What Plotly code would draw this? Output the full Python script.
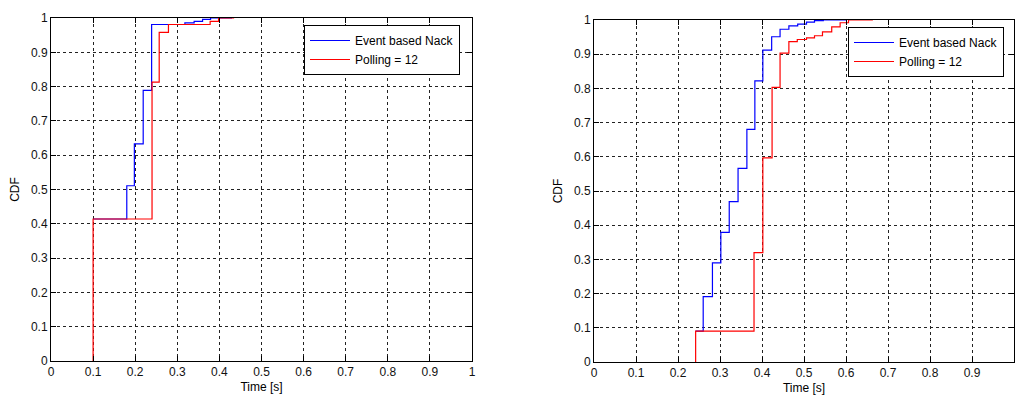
import plotly.graph_objects as go

# ---------------- data ----------------
tick_vals = [0, 0.1, 0.2, 0.3, 0.4, 0.5, 0.6, 0.7, 0.8, 0.9, 1.0]
tick_text = ["0", "0.1", "0.2", "0.3", "0.4", "0.5", "0.6", "0.7", "0.8", "0.9", "1"]

# left panel
left_event_t = [0.1, 0.18, 0.198, 0.219, 0.239, 0.318, 0.340, 0.360, 0.379]
left_event_cdf = [0.414, 0.511, 0.633, 0.789, 0.981, 0.986, 0.990, 0.996, 1.0]
left_event_end = 0.43
left_poll_t = [0.1, 0.24, 0.257, 0.279, 0.378, 0.398]
left_poll_cdf = [0.414, 0.813, 0.958, 0.981, 0.990, 1.0]
left_poll_end = 0.435

# right panel
right_event_t = [0.242, 0.260, 0.282, 0.302, 0.322, 0.343, 0.364, 0.383, 0.402,
                 0.423, 0.443, 0.464, 0.485, 0.506, 0.525, 0.546]
right_event_cdf = [0.09, 0.191, 0.290, 0.379, 0.469, 0.566, 0.680, 0.822, 0.912,
                   0.951, 0.973, 0.983, 0.988, 0.994, 0.998, 1.0]
right_event_end = 0.6
right_poll_t = [0.242, 0.381, 0.402, 0.424, 0.443, 0.464, 0.484, 0.506, 0.525,
                0.544, 0.566, 0.586, 0.606]
right_poll_cdf = [0.09, 0.320, 0.597, 0.803, 0.903, 0.937, 0.943, 0.948, 0.954,
                  0.965, 0.980, 0.992, 1.0]
right_poll_end = 0.664

names = ["Event based Nack", "Polling = 12"]
colors = ["#0000ff", "#ff0000"]


def step(t, cdf, end, from_zero):
    xs = list(t) + [end]
    ys = list(cdf) + [cdf[-1]]
    if from_zero:
        xs = [t[0]] + xs
        ys = [0] + ys
    return xs, ys


W, H = 1016, 395
fig = go.Figure()

panels = [
    (left_event_t, left_event_cdf, left_event_end, left_poll_t, left_poll_cdf, left_poll_end, "x", "y", "legend"),
    (right_event_t, right_event_cdf, right_event_end, right_poll_t, right_poll_cdf, right_poll_end, "x2", "y2", "legend2"),
]
for et, ec, ee, pt, pc, pe, xa, ya, lg in panels:
    for (t, c, e), name, col, fz in zip([(et, ec, ee), (pt, pc, pe)], names, colors, [False, True]):
        xs, ys = step(t, c, e, fz)
        fig.add_trace(go.Scatter(x=xs, y=ys, mode="lines", line_shape="hv",
                                 line=dict(color=col, width=1.2), name=name,
                                 xaxis=xa, yaxis=ya, legend=lg))

font = dict(family="Liberation Sans, Arial, sans-serif", size=12, color="#111111")
lfont = dict(family="Liberation Sans, Arial, sans-serif", size=12, color="black")

axis_common = dict(
    range=[0, 1], tickvals=tick_vals, showgrid=True, gridcolor="#222222",
    griddash="3px,3px", gridwidth=1, showline=True, linecolor="black", linewidth=1,
    mirror="ticks", ticks="inside", ticklen=5, tickcolor="black", zeroline=False,
    tickfont=font, automargin=False,
)

fig.update_layout(
    width=W, height=H, margin=dict(l=0, r=0, t=0, b=0),
    paper_bgcolor="white", plot_bgcolor="white", font=font,
    xaxis=dict(axis_common, domain=[51 / W, 472 / W], ticktext=tick_text, anchor="y",
               title=dict(text="Time [s]", font=lfont, standoff=4)),
    yaxis=dict(axis_common, domain=[1 - 361 / H, 1 - 18 / H], ticktext=tick_text, anchor="x",
               title=dict(text="CDF", font=lfont, standoff=8)),
    xaxis2=dict(axis_common, domain=[594 / W, 1014 / W], ticktext=tick_text[:-1] + [""], anchor="y2",
                title=dict(text="Time [s]", font=lfont, standoff=4)),
    yaxis2=dict(axis_common, domain=[1 - 362 / H, 1 - 20 / H], ticktext=tick_text, anchor="x2",
                title=dict(text="CDF", font=lfont, standoff=8)),
    legend=dict(x=304 / W, y=1 - 25 / H, xanchor="left", yanchor="top", bgcolor="white",
                bordercolor="black", borderwidth=1, font=lfont, itemwidth=40,
                tracegroupgap=0),
    legend2=dict(x=848 / W, y=1 - 27 / H, xanchor="left", yanchor="top", bgcolor="white",
                 bordercolor="black", borderwidth=1, font=lfont, itemwidth=40,
                 tracegroupgap=0),
    showlegend=True,
)

fig.write_html("out.html", config={"displayModeBar": False},
               post_script="document.body.style.margin='0px';document.body.style.overflow='hidden';")
